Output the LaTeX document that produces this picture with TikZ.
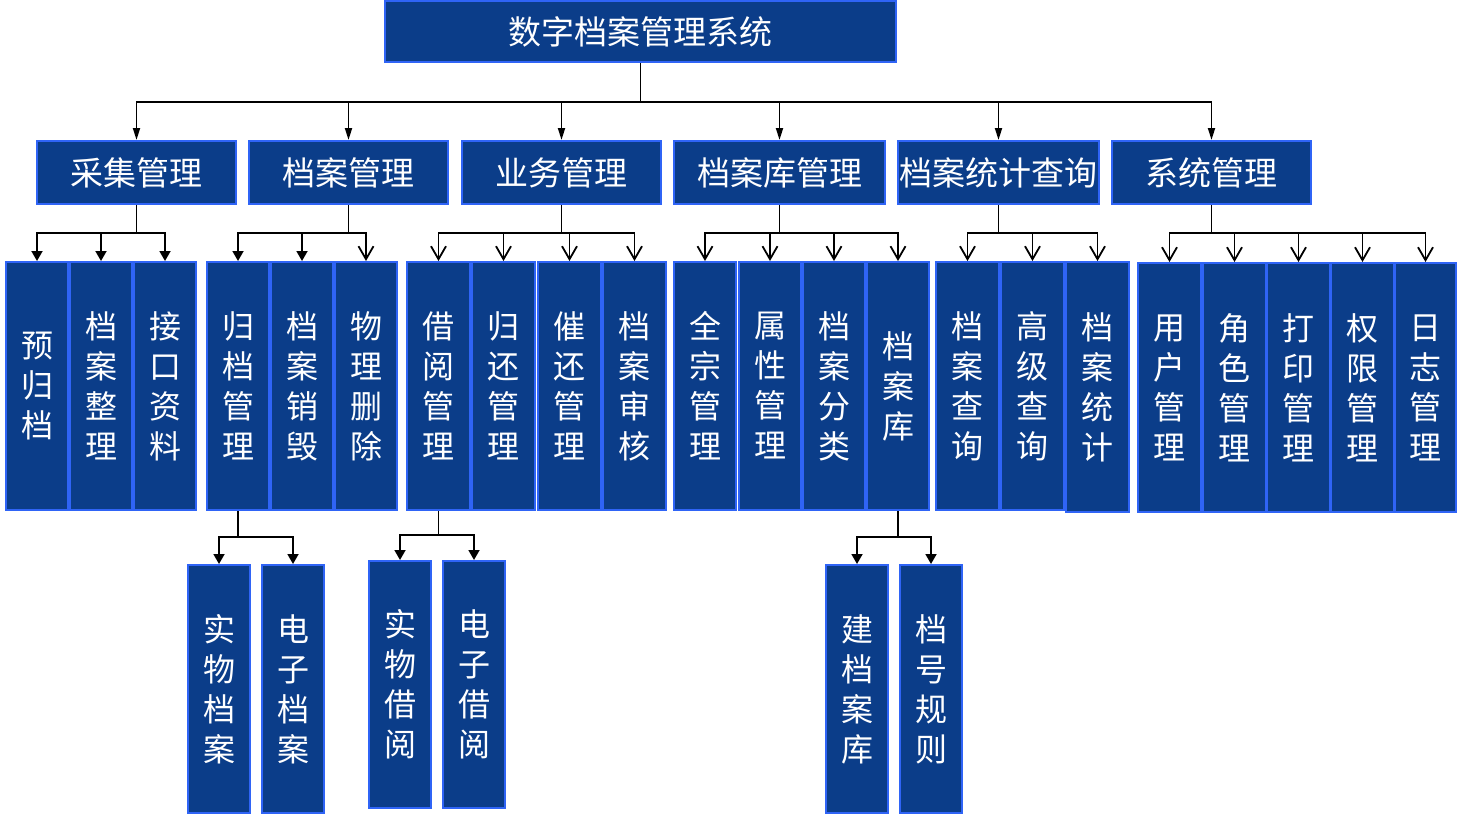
\documentclass[tikz,border=0pt]{standalone}
\usepackage{fontspec}
\newfontfamily\cjk{Noto Sans CJK SC}
\usetikzlibrary{arrows.meta}
\definecolor{boxc}{RGB}{11,61,137}
\definecolor{bordc}{RGB}{47,100,246}
\tikzset{
  box/.style={draw=bordc, fill=boxc, line width=2pt, text=white, inner sep=0pt, align=center,
    font=\cjk\fontsize{32}{40}\selectfont},
  hbox/.style={box, font=\cjk\fontsize{33}{40}\selectfont},
  vbox/.style={box, minimum width=62pt, minimum height=248pt},
  conn/.style={line width=1.8pt, black},
  toptip/.style={conn, -{Triangle[width=7pt,length=12pt]}},
  filltip/.style={conn, -{Triangle[width=11pt,length=10pt]}},
  opentip/.style={conn, -{Straight Barb[width=15pt,length=13pt]}}
}
\begin{document}
\begin{tikzpicture}[x=1pt,y=-1pt]
\useasboundingbox (0,0) rectangle (1462,814);
% root
\node[hbox, minimum width=511pt, minimum height=61pt] (root) at (640.5,31.5) {数字档案管理系统};
% level 1
\node[hbox, minimum width=199pt, minimum height=63pt] (c1) at (136.5,172.5) {采集管理};
\node[hbox, minimum width=199pt, minimum height=63pt] (c2) at (348.5,172.5) {档案管理};
\node[hbox, minimum width=199pt, minimum height=63pt] (c3) at (561.5,172.5) {业务管理};
\node[hbox, minimum width=211pt, minimum height=63pt] (c4) at (779.5,172.5) {档案库管理};
\node[hbox, minimum width=201pt, minimum height=63pt] (c5) at (998.5,172.5) {档案统计查询};
\node[hbox, minimum width=199pt, minimum height=63pt] (c6) at (1211.5,172.5) {系统管理};
% level 2
\node[vbox] (a1) at (37,386) {预\\归\\档};
\node[vbox] (a2) at (101,386) {档\\案\\整\\理};
\node[vbox] (a3) at (165,386) {接\\口\\资\\料};
\node[vbox] (b1) at (238,386) {归\\档\\管\\理};
\node[vbox] (b2) at (302,386) {档\\案\\销\\毁};
\node[vbox] (b3) at (366,386) {物\\理\\删\\除};
\node[vbox, minimum width=63pt] (d1) at (438.5,386) {借\\阅\\管\\理};
\node[vbox, minimum width=63pt] (d2) at (503.5,386) {归\\还\\管\\理};
\node[vbox, minimum width=63pt] (d3) at (569.5,386) {催\\还\\管\\理};
\node[vbox, minimum width=63pt] (d4) at (634.5,386) {档\\案\\审\\核};
\node[vbox] (e1) at (705,386) {全\\宗\\管\\理};
\node[vbox] (e2) at (770,386) {属\\性\\管\\理};
\node[vbox] (e3) at (834,386) {档\\案\\分\\类};
\node[vbox] (e4) at (898,386) {档\\案\\库};
\node[vbox, minimum width=63pt] (f1) at (967.5,386) {档\\案\\查\\询};
\node[vbox, minimum width=63pt] (f2) at (1032.5,386) {高\\级\\查\\询};
\node[vbox, minimum width=63pt, minimum height=250pt] (f3) at (1097.5,387) {档\\案\\统\\计};
\node[vbox, minimum width=63pt, minimum height=249pt] (g1) at (1169.5,387.5) {用\\户\\管\\理};
\node[vbox, minimum width=63pt, minimum height=249pt] (g2) at (1234.5,387.5) {角\\色\\管\\理};
\node[vbox, minimum width=63pt, minimum height=249pt] (g3) at (1298.5,387.5) {打\\印\\管\\理};
\node[vbox, minimum width=63pt, minimum height=249pt] (g4) at (1362.5,387.5) {权\\限\\管\\理};
\node[vbox, minimum width=61pt, minimum height=249pt] (g5) at (1425.5,387.5) {日\\志\\管\\理};
% level 3
\node[vbox] (h1) at (219,689) {实\\物\\档\\案};
\node[vbox] (h2) at (293,689) {电\\子\\档\\案};
\node[vbox, minimum height=247pt] (i1) at (400,684.5) {实\\物\\借\\阅};
\node[vbox, minimum height=247pt] (i2) at (474,684.5) {电\\子\\借\\阅};
\node[vbox] (j1) at (857,689) {建\\档\\案\\库};
\node[vbox] (j2) at (931,689) {档\\号\\规\\则};
% junctions
\coordinate (r0) at (root.south |- 0,102);
\coordinate (k1) at (c1.south |- 0,233);
\coordinate (k2) at (c2.south |- 0,233);
\coordinate (k3) at (c3.south |- 0,233);
\coordinate (k4) at (c4.south |- 0,233);
\coordinate (k5) at (c5.south |- 0,233);
\coordinate (k6) at (c6.south |- 0,233);
\coordinate (m1) at (b1.south |- 0,537);
\coordinate (m2) at (d1.south |- 0,535);
\coordinate (m3) at (e4.south |- 0,537);
% top
\draw[conn] (root.south) -- (r0);
\foreach \n in {c1,c2,c3,c4,c5,c6} \draw[toptip] (r0) -| (\n.north);
% level 2 connectors
\draw[conn] (c1.south) -- (k1);
\foreach \n in {a1,a2,a3} \draw[filltip] (k1) -| (\n.north);
\draw[conn] (c2.south) -- (k2);
\foreach \n in {b1,b2} \draw[filltip] (k2) -| (\n.north);
\draw[opentip] (k2) -| (b3.north);
\draw[conn] (c3.south) -- (k3);
\foreach \n in {d1,d2,d3,d4} \draw[opentip] (k3) -| (\n.north);
\draw[conn] (c4.south) -- (k4);
\foreach \n in {e1,e2,e3,e4} \draw[opentip] (k4) -| (\n.north);
\draw[conn] (c5.south) -- (k5);
\foreach \n in {f1,f2,f3} \draw[opentip] (k5) -| (\n.north);
\draw[conn] (c6.south) -- (k6);
\foreach \n in {g1,g2,g3,g4,g5} \draw[opentip] (k6) -| (\n.north);
% level 3 connectors
\draw[conn] (b1.south) -- (m1);
\foreach \n in {h1,h2} \draw[filltip] (m1) -| (\n.north);
\draw[conn] (d1.south) -- (m2);
\foreach \n in {i1,i2} \draw[filltip] (m2) -| (\n.north);
\draw[conn] (e4.south) -- (m3);
\foreach \n in {j1,j2} \draw[filltip] (m3) -| (\n.north);
\end{tikzpicture}
\end{document}
